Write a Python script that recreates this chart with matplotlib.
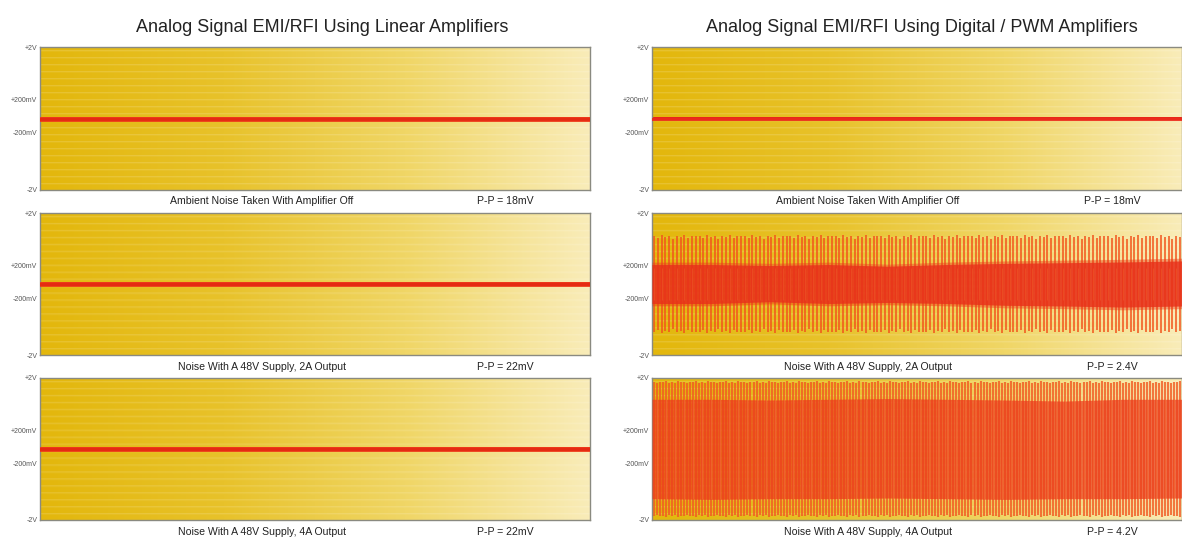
import numpy as np
import matplotlib
matplotlib.use("Agg")
import matplotlib.pyplot as plt
from matplotlib.colors import LinearSegmentedColormap

plt.rcParams['font.family'] = ['Liberation Sans Narrow', 'Liberation Sans', 'DejaVu Sans']

# titles, captions and readings
column_titles = ["Analog Signal EMI/RFI Using Linear Amplifiers",
                 "Analog Signal EMI/RFI Using Digital / PWM Amplifiers"]
captions = ["Ambient Noise Taken With Amplifier Off",
            "Noise With A 48V Supply, 2A Output",
            "Noise With A 48V Supply, 4A Output"]
pp_linear = ["P-P = 18mV", "P-P = 22mV", "P-P = 22mV"]
pp_pwm = ["P-P = 18mV", "P-P = 2.4V", "P-P = 4.2V"]

# y tick labels and where they sit on the scope screen (screen units, -2..+2)
tick_labels = ["+2V", "+200mV", "-200mV", "-2V"]
tick_pos = [2.0, 0.52, -0.4, -2.0]

# trace band half-widths in screen units
linear_band = [0.05, 0.06, 0.06]
pwm_quiet_band = 0.04

# PWM 2A: core noise envelope (sampled along the trace) and spike peaks
core_2a_hi = [0.55, 0.55, 0.52, 0.55, 0.5, 0.55, 0.58, 0.6, 0.62, 0.65]
core_2a_lo = [-0.55, -0.55, -0.5, -0.55, -0.52, -0.55, -0.6, -0.62, -0.65, -0.62]
spike_2a = [1.35, 1.3, 1.38, 1.32, 1.36, 1.28, 1.35, 1.33, 1.37, 1.3, 1.34, 1.36]
n_spikes_2a = 140

# PWM 4A
core_4a_hi = [1.4, 1.4, 1.38, 1.4, 1.42, 1.4, 1.38, 1.35, 1.4, 1.4]
core_4a_lo = [-1.4, -1.42, -1.4, -1.4, -1.38, -1.4, -1.42, -1.4, -1.4, -1.38]
spike_4a = [1.9, 1.85, 1.9, 1.88, 1.92, 1.86, 1.9, 1.87, 1.91, 1.89]
n_spikes_4a = 175

W, H = 1182, 540
fig = plt.figure(figsize=(W / 100, H / 100), dpi=100)

# panel geometry in pixels: (left, width) per column, (top, bottom) per row
cols = [(40, 550), (652, 530)]
rows = [(47, 190), (213, 355), (378, 520)]

bg_cmap = LinearSegmentedColormap.from_list("scope", ["#e3b70c", "#e8c22a", "#f0d666", "#f9ecb8"])


def draw_background(ax):
    nx, ny = 400, 143
    grad = np.tile(np.linspace(0, 1, nx), (ny, 1))
    img = bg_cmap(grad)[:, :, :3]
    # faint lighter horizontal scan lines
    for r in range(3, ny, 7):
        img[r] = img[r] + (1 - img[r]) * 0.14
        nxt = r + 1 if r + 1 < ny else r
        img[nxt] = img[nxt] + (1 - img[nxt]) * 0.05
    ax.imshow(img, extent=(0, 1, -2, 2), aspect='auto', zorder=0, interpolation='bilinear')


def style(ax):
    ax.set_xlim(0, 1)
    ax.set_ylim(-2, 2)
    ax.set_xticks([])
    ax.set_yticks(tick_pos)
    ax.set_yticklabels(tick_labels, fontsize=5, color='#555555')
    ax.tick_params(axis='y', length=0, pad=2)
    for s in ax.spines.values():
        s.set_color('#8a8a80')
        s.set_linewidth(1.0)


axes = []
for c, (x0, w) in enumerate(cols):
    for r, (t, b) in enumerate(rows):
        ax = fig.add_axes([x0 / W, 1 - b / H, w / W, (b - t) / H])
        draw_background(ax)
        style(ax)
        axes.append((c, r, ax))

x_env = np.linspace(0, 1, len(core_2a_hi))
x_fine = np.linspace(0, 1, 600)

for c, r, ax in axes:
    if c == 0:
        hw = linear_band[r]
        ax.fill_between([0, 1], [-hw, -hw], [hw, hw], color='#e8261a', lw=0, zorder=2)
        ax.axhline(0, color='#ee3a1a', lw=3.6, alpha=0.9, zorder=3)
        ax.axhline(0, color='#e52a12', lw=2.0, zorder=3)
    elif r == 0:
        ax.fill_between([0, 1], [-pwm_quiet_band] * 2, [pwm_quiet_band] * 2,
                        color='#e8261a', lw=0, zorder=2)
        ax.axhline(0, color='#ec2c1c', lw=2.2, alpha=0.9, zorder=3)
    elif r == 1:
        xs = np.linspace(0.004, 0.996, n_spikes_2a)
        amp = np.resize(spike_2a, n_spikes_2a)
        ax.vlines(xs, -amp, amp, color='#f2541c', lw=1.3, alpha=0.85, zorder=2)
        hi = np.interp(x_fine, x_env, core_2a_hi)
        lo = np.interp(x_fine, x_env, core_2a_lo)
        ax.fill_between(x_fine, lo * 1.12, hi * 1.12, color='#ea3a18', alpha=0.45, lw=0, zorder=3)
        ax.fill_between(x_fine, lo, hi, color='#e8301a', alpha=0.8, lw=0, zorder=3)
        ax.vlines(xs[::2], -0.45, 0.45, color='#f07030', lw=0.7, alpha=0.35, zorder=4)
    else:
        xs = np.linspace(0.003, 0.997, n_spikes_4a)
        amp = np.resize(spike_4a, n_spikes_4a)
        ax.vlines(xs, -amp, amp, color='#f15a22', lw=1.5, alpha=0.8, zorder=2)
        hi = np.interp(x_fine, x_env, core_4a_hi)
        lo = np.interp(x_fine, x_env, core_4a_lo)
        ax.fill_between(x_fine, lo, hi, color='#ec3c1c', alpha=0.72, lw=0, zorder=3)
        ax.vlines(xs[1::3], lo.min(), hi.max(), color='#f79a50', lw=0.9, alpha=0.3, zorder=4)

# titles
fig.text(322 / W, 1 - 28 / H, column_titles[0], ha='center', va='center', fontsize=13, color='#222222')
fig.text(922 / W, 1 - 28 / H, column_titles[1], ha='center', va='center', fontsize=13, color='#222222')

# captions under each panel
cap_y = [201, 367, 532]
for r in range(3):
    fig.text(262 / W, 1 - cap_y[r] / H, captions[r], ha='center', va='center', fontsize=7.6, color='#222222')
    fig.text(505 / W, 1 - cap_y[r] / H, pp_linear[r], ha='center', va='center', fontsize=7.6, color='#222222')
    fig.text(868 / W, 1 - cap_y[r] / H, captions[r], ha='center', va='center', fontsize=7.6, color='#222222')
    fig.text(1112 / W, 1 - cap_y[r] / H, pp_pwm[r], ha='center', va='center', fontsize=7.6, color='#222222')

fig.savefig("out.png", dpi=100, facecolor='white')
